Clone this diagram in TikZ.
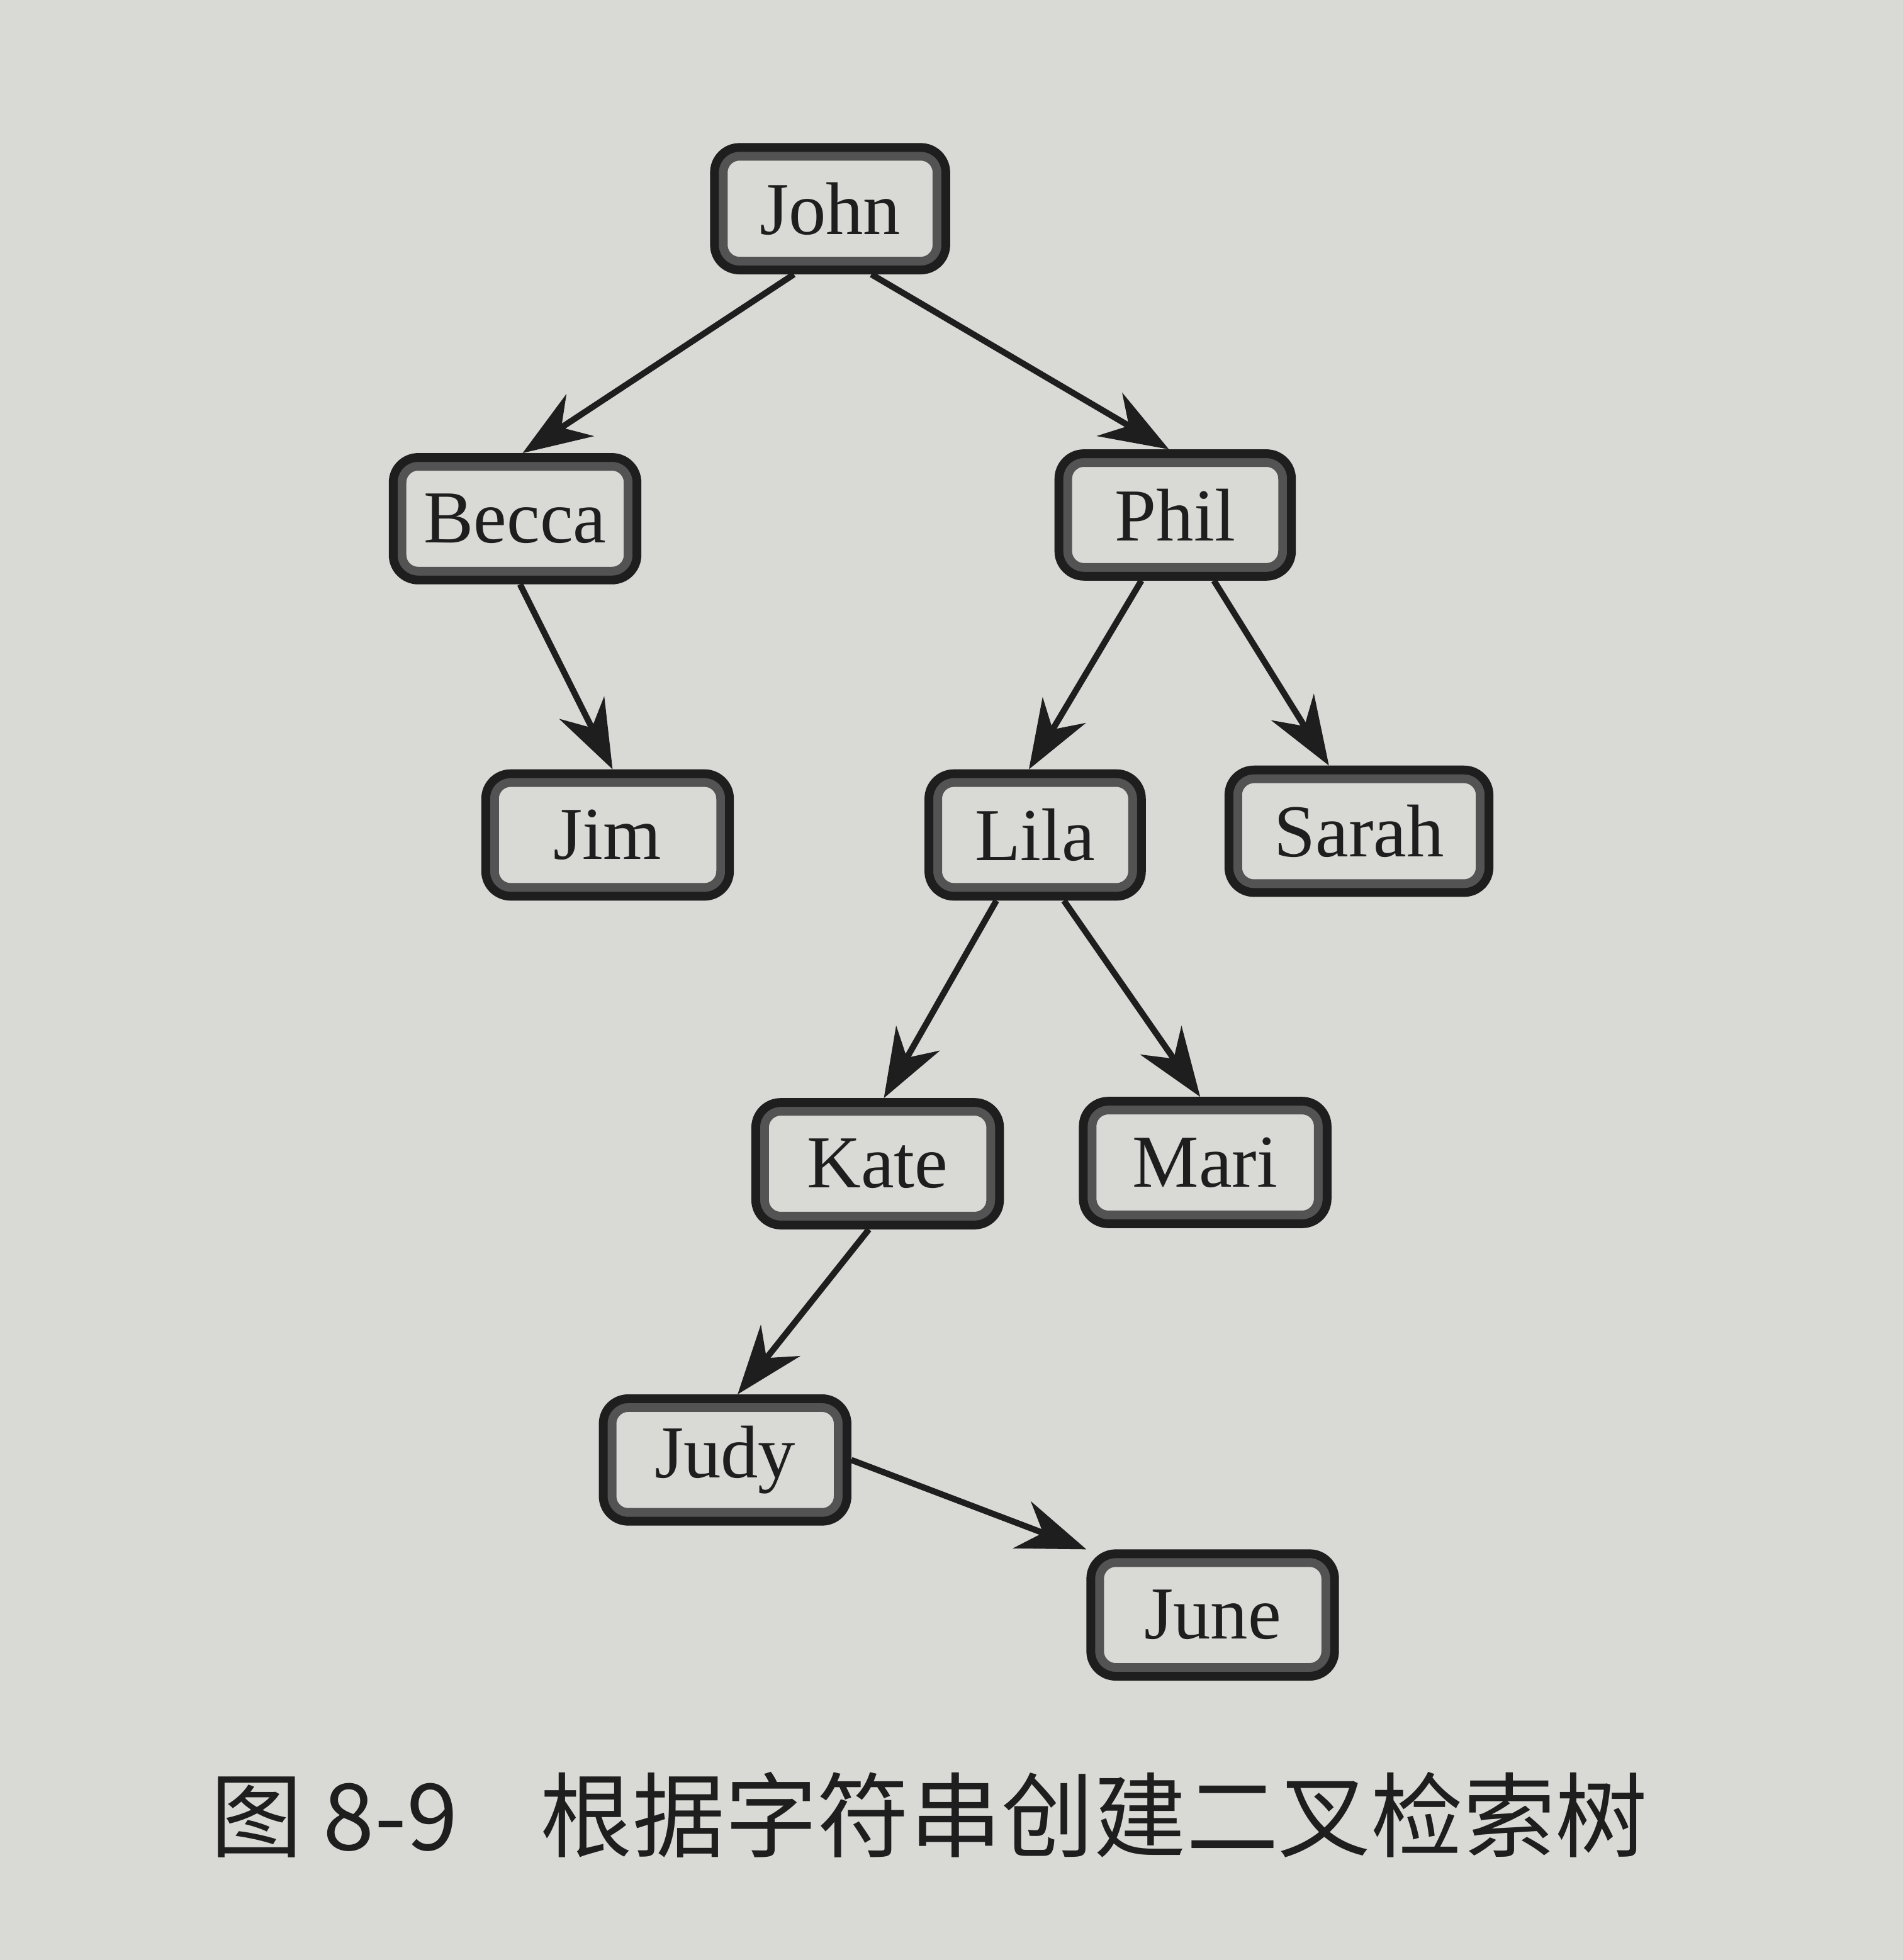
\documentclass[tikz,border=0pt]{standalone}
\usepackage{fontspec}
\setmainfont{Liberation Serif}
\newfontfamily\cjk{Noto Sans CJK SC}
\usetikzlibrary{arrows.meta}
\definecolor{paper}{HTML}{D9D9D6}
\definecolor{ink}{HTML}{1E1E1E}

\begin{document}
\begin{tikzpicture}[
          every node/.style={font=\fontsize{17}{20}\selectfont, text=ink},
          namebox/.style={draw=ink, line width=2pt, rounded corners=0.2cm,
            inner xsep=0.36cm, minimum height=0.98cm, minimum width=1.95cm,
            path picture={\draw[gray!65!black, line width=6pt, rounded corners=0.2cm]
              (path picture bounding box.south west) rectangle
              (path picture bounding box.north east);}},
          link/.style={draw=ink, line width=1.4pt,
            -{Stealth[length=0.55cm, width=0.4cm]}},
        ]
          \fill[paper] (0,0) rectangle (15.22,15.68);
          \node[namebox, minimum width=1.85cm] (john)  at ( 6.64, 14.01) {John};
          \node[namebox, inner xsep=0.22cm] (becca) at ( 4.12, 11.53) {Becca};
          \node[namebox, minimum width=1.86cm] (phil)  at ( 9.40, 11.56) {Phil};
          \node[namebox] (jim)   at ( 4.86,  9.00) {Jim};
          \node[namebox, minimum width=1.7cm] (lila)  at ( 8.28,  9.00) {Lila};
          \node[namebox] (sarah) at (10.87,  9.03) {Sarah};
          \node[namebox] (kate)  at ( 7.02,  6.37) {Kate};
          \node[namebox] (mari)  at ( 9.64,  6.38) {Mari};
          \node[namebox] (judy)  at ( 5.80,  4.00) {Judy};
          \node[namebox] (june)  at ( 9.70,  2.76) {June};
          \draw[link] ([xshift=-0.29cm]john.south) -- ([xshift=0.06cm]becca.north);
          \draw[link] ([xshift=0.33cm]john.south)  -- ([xshift=-0.05cm]phil.north);
          \draw[link] ([xshift=0.04cm]becca.south) -- ([xshift=0.04cm]jim.north);
          \draw[link] ([xshift=-0.27cm]phil.south) -- ([xshift=-0.05cm]lila.north);
          \draw[link] ([xshift=0.31cm]phil.south)  -- ([xshift=-0.24cm]sarah.north);
          \draw[link] ([xshift=-0.31cm]lila.south) -- ([xshift=0.05cm]kate.north);
          \draw[link] ([xshift=0.23cm]lila.south)  -- ([xshift=-0.04cm]mari.north);
          \draw[link] ([xshift=-0.07cm]kate.south) -- ([xshift=0.1cm]judy.north);
          \draw[link] (judy.east) -- (june.north west);
          \node[anchor=west, font=\cjk\fontsize{21}{26}\selectfont] (caption) at (1.56, 1.16)
            {图~8-9\hspace{0.66cm}根据字符串创建二叉检索树};
        \end{tikzpicture}
\end{document}
